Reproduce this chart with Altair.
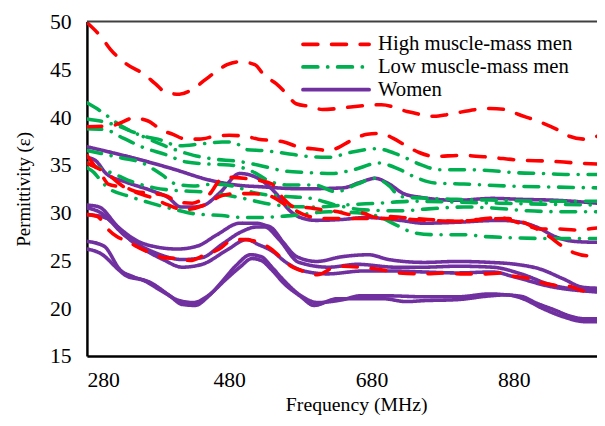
import altair as alt
import pandas as pd

# ---------------- data ----------------
groups = ["High muscle-mass men", "Low muscle-mass men", "Women"]

R1_x = [280,301,313,335,362,376,391,410,428,446,462,477,495,516,529,546,560,574,595,611,632,654,694,730,768,789,827,847,868,886,913,941,958,980,997]
R1_y = [49.9,48.3,47.1,45.6,44.4,43.5,42.6,42.4,42.9,43.9,44.8,45.5,45.8,45.5,44.4,43.5,42.5,41.4,41.1,40.8,40.9,41.1,41.3,40.6,40.1,40.3,40.8,40.9,40.8,40.3,39.6,38.7,38.0,37.7,38.0]
R2_x = [280,315,327,345,366,384,401,419,438,460,480,502,521,557,581,597,620,633,650,674,694,710,729,747,768,807,847,888,930,969,997]
R2_y = [39.0,39.1,39.4,39.9,39.6,38.7,38.2,37.7,37.7,38.0,38.1,38.0,37.7,37.4,36.8,36.7,36.5,36.8,37.5,38.2,38.3,37.8,37.0,36.3,35.9,36.0,35.8,35.5,35.4,35.2,35.1]
R3_x = [280,290,302,310,335,350,375,390,410,428,440,453,467,480,500,520,540,556,572,595,611,633,650,665,687,705,723,760,800,830,860,876,897,916,945,965,985,997]
R3_y = [36.0,35.0,33.8,33.0,32.6,32.2,32.0,31.8,31.1,31.0,31.3,32.0,33.4,33.7,33.6,33.4,33.0,31.5,30.6,30.5,30.3,30.1,29.8,30.0,29.5,29.6,29.5,29.3,29.1,29.3,29.5,29.2,28.7,28.3,28.3,28.2,28.3,28.4]
R4_x = [280,310,330,370,395,415,445,470,490,510,535,560,585,610,640,700,760,800,840,870,905,930,948,965,985,997]
R4_y = [35.2,34.0,32.8,31.6,30.8,30.3,30.8,31.8,32.0,32.0,31.8,30.8,29.8,29.4,29.4,29.4,29.2,29.1,29.3,29.4,28.6,27.5,26.5,25.8,25.5,25.6]
R5_x = [280,295,308,322,338,349,376,387,407,425,446,466,481,500,521,535,553,567,588,604,625,640,664,705,719,754,782,805,823,841,861,876,902,918,938,958,980,997]
R5_y = [29.8,29.6,28.4,27.5,27.0,26.5,25.6,25.3,25.2,25.0,25.6,26.2,27.0,27.2,26.9,26.4,25.3,24.4,23.8,23.5,24.2,24.4,24.3,23.9,23.7,23.6,23.7,23.6,23.6,23.6,23.7,23.4,23.1,22.7,22.4,22.3,21.8,21.8]

G1_x = [280,300,320,340,360,380,410,440,470,485,505,528,560,590,620,650,687,720,750,775,810,850,880,920,960,997]
G1_y = [41.5,40.6,39.5,38.6,38.0,37.7,37.0,37.2,37.4,37.4,36.6,36.5,36.2,35.9,35.8,36.3,36.7,36.0,35.0,34.5,34.5,34.4,34.2,34.1,34.0,34.0]
G2_x = [280,310,340,370,400,430,460,490,520,555,590,625,655,690,720,745,770,810,870,930,997]
G2_y = [39.8,39.4,38.6,37.6,36.7,36.0,35.6,35.4,35.0,34.4,34.2,34.1,34.5,35.2,34.5,33.6,33.1,33.0,32.8,32.7,32.6]
G3_x = [280,305,331,360,390,420,450,480,510,540,563,600,630,660,685,705,720,760,800,860,920,997]
G3_y = [38.8,38.7,37.8,36.8,36.1,35.3,35.1,35.0,34.4,33.2,32.9,32.9,32.2,33.0,33.6,32.8,31.7,31.5,31.4,31.3,31.2,31.2]
G4_x = [280,300,330,355,385,405,430,460,490,515,560,595,630,670,720,760,810,850,900,950,997]
G4_y = [36.5,36.2,35.7,35.3,34.0,33.0,32.8,33.0,32.7,32.1,31.7,31.5,30.8,30.3,30.2,30.4,30.6,30.5,30.2,30.1,30.1]
G5_x = [280,300,320,345,375,410,440,470,500,530,560,600,640,690,740,800,860,920,997]
G5_y = [35.2,34.6,34.0,33.2,32.6,32.3,32.2,31.9,31.5,31.0,30.7,30.6,30.8,31.0,31.2,31.1,31.0,30.9,30.8]
G6_x = [280,290,300,310,340,370,400,430,470,500,520,550,580,620,660,690,715,740,770,810,840,870,930,997]
G6_y = [34.7,34.2,33.3,32.6,31.7,31.0,30.4,29.9,29.7,29.5,29.5,29.6,29.8,30.1,30.0,29.6,28.7,27.9,27.7,27.7,27.5,27.4,27.3,27.3]

P1_x = [280,320,362,400,453,490,528,580,640,665,685,705,725,750,800,850,890,940,997]
P1_y = [36.9,36.2,35.4,34.6,33.4,32.9,32.7,32.5,32.6,33.2,33.6,33.0,32.0,31.6,31.3,31.5,31.4,31.3,31.0]
P2_x = [280,293,307,335,371,394,412,430,445,467,495,518,546,564,580,602,640,672,720,754,800,860,890,915,938,965,997]
P2_y = [35.8,35.4,34.1,33.2,32.3,31.6,30.6,30.6,30.8,32.1,34.1,33.7,32.0,30.3,29.5,29.2,29.3,29.5,29.2,28.9,29.0,29.2,29.0,28.4,27.5,27.0,26.9]
P3_x = [280,297,324,362,407,435,463,495,518,530,540,556,575,603,639,676,704,754,800,847,883,917,949,977,997]
P3_y = [30.8,30.6,28.5,26.7,26.2,26.5,27.7,28.9,28.9,28.7,28.4,26.9,25.4,24.9,25.4,25.6,25.1,24.8,24.9,24.8,24.6,24.1,23.1,22.2,22.1]
P4_x = [280,297,335,373,414,442,470,497,518,530,550,578,620,660,713,754,800,850,890,930,997]
P4_y = [30.5,30.1,27.5,25.9,25.1,25.3,26.7,28.0,28.5,28.5,27.2,24.8,24.3,24.6,24.3,24.3,24.4,24.3,23.6,22.5,21.8]
P5_x = [280,305,345,387,414,442,477,505,520,540,560,585,618,668,710,754,800,850,880,930,997]
P5_y = [29.8,29.5,26.9,25.1,24.3,24.6,26.1,27.2,26.7,26.0,24.8,23.9,23.6,23.9,23.9,23.8,23.7,23.8,23.3,22.3,21.7]
P6_x = [280,304,327,345,369,395,414,432,450,470,490,510,525,540,557,581,604,640,664,705,754,800,847,870,893,910,938,958,980,997]
P6_y = [27.0,26.5,24.0,23.3,22.7,21.4,20.4,20.3,21.2,22.8,24.5,25.6,25.4,24.3,22.9,21.3,20.6,20.9,21.3,21.3,21.2,21.2,21.5,21.4,21.2,20.6,19.8,19.2,18.9,18.9]
P7_x = [280,300,325,335,360,385,410,430,450,475,495,512,525,540,557,581,599,632,696,729,754,800,847,870,893,920,950,980,997]
P7_y = [26.2,25.7,24.0,23.4,22.9,21.8,20.8,20.6,21.3,23.0,24.3,25.2,25.0,24.0,22.6,21.2,20.3,21.0,21.0,20.7,20.8,20.9,21.3,21.4,21.0,20.0,19.1,18.6,18.6]

x_ticks = [280, 480, 680, 880]
y_ticks = [15, 20, 25, 30, 35, 40, 45, 50]

series = [
    ("P1", groups[2], P1_x, P1_y), ("P2", groups[2], P2_x, P2_y), ("P3", groups[2], P3_x, P3_y),
    ("P4", groups[2], P4_x, P4_y), ("P5", groups[2], P5_x, P5_y), ("P6", groups[2], P6_x, P6_y),
    ("P7", groups[2], P7_x, P7_y),
    ("G1", groups[1], G1_x, G1_y), ("G2", groups[1], G2_x, G2_y), ("G3", groups[1], G3_x, G3_y),
    ("G4", groups[1], G4_x, G4_y), ("G5", groups[1], G5_x, G5_y), ("G6", groups[1], G6_x, G6_y),
    ("R1", groups[0], R1_x, R1_y), ("R2", groups[0], R2_x, R2_y), ("R3", groups[0], R3_x, R3_y),
    ("R4", groups[0], R4_x, R4_y), ("R5", groups[0], R5_x, R5_y),
]
rows = []
for order, (sid, grp, xs, ys) in enumerate(series):
    for xv, yv in zip(xs, ys):
        rows.append({"sid": sid, "group": grp, "f": xv, "eps": yv, "ord": order})
df = pd.DataFrame(rows)

colors = ["#FF0000", "#00B050", "#7030A0"]
dashes = [[15, 14], [15, 10, 0.1, 10], [1, 0]]
FONT = "Liberation Serif"
W, H = 517, 339

color_scale = alt.Scale(domain=groups, range=colors)
dash_scale = alt.Scale(domain=groups, range=dashes)

lines = alt.Chart(df).mark_line(strokeWidth=3.6, strokeCap="round", interpolate="monotone", clip=True).encode(
    x=alt.X("f:Q", scale=alt.Scale(domain=[280, 997], nice=False, zero=False),
            axis=alt.Axis(values=x_ticks, title="Frequency (MHz)", grid=False, ticks=False,
                          labelPadding=14, titleX=273, titleY=55, titleBaseline="alphabetic")),
    y=alt.Y("eps:Q", scale=alt.Scale(domain=[15, 50], nice=False, zero=False),
            axis=alt.Axis(values=y_ticks, title="Permittivity (ε)", grid=False, ticks=False,
                          labelPadding=16, titlePadding=16)),
    color=alt.Color("group:N", scale=color_scale, legend=None),
    strokeDash=alt.StrokeDash("group:N", scale=dash_scale, legend=None),
    detail="sid:N",
    order="ord:Q",
)

one = alt.Data(values=[{"k": 0}])

top_border = alt.Chart(one).mark_rule(color="#404040", strokeWidth=2).encode(
    x=alt.value(0), x2=alt.value(W), y=alt.value(0)
)

# legend drawn inside the plot (top right)
leg_y = [23, 46, 69]
leg_layers = []
for i, g in enumerate(groups):
    leg_layers.append(
        alt.Chart(one).mark_rule(color=colors[i], strokeWidth=3.8, strokeDash=dashes[i], strokeCap="round").encode(
            x=alt.value(219), x2=alt.value(286), y=alt.value(leg_y[i])
        )
    )
    leg_layers.append(
        alt.Chart(one).mark_text(text=g, font=FONT, fontSize=21, align="left", baseline="middle", color="black").encode(
            x=alt.value(295), y=alt.value(leg_y[i])
        )
    )

chart = alt.layer(lines, top_border, *leg_layers).properties(
    width=W, height=H,
    autosize=alt.AutoSizeParams(type="none"),
    padding={"left": 80, "top": 11, "right": 0, "bottom": 60},
).configure_view(stroke=None).configure_axis(
    labelFont=FONT, titleFont=FONT, labelFontSize=22, titleFontSize=20,
    titleFontWeight="normal", labelColor="black", titleColor="black",
    domainColor="black", domainWidth=2.5,
).configure_axisY(titleFontSize=19)

chart.save("out.html", embed_options={"renderer": "svg", "actions": False})
